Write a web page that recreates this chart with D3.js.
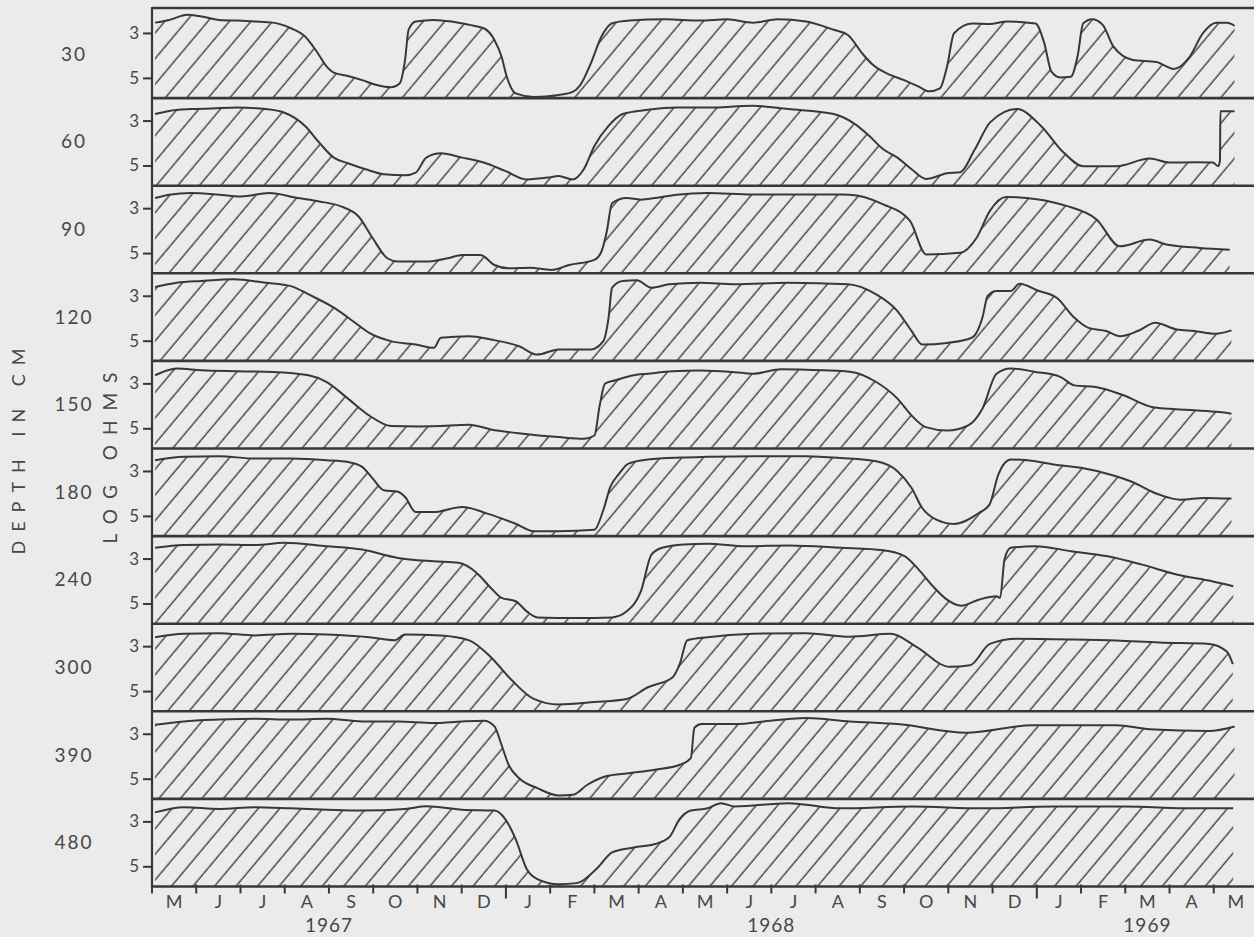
<!DOCTYPE html>
<html>
<head>
<meta charset="utf-8">
<script src="https://cdn.jsdelivr.net/npm/d3@7"></script>
<style>
  html, body { margin: 0; padding: 0; background: #ebebeb; }
  svg { display: block; }
  text { font-family: "Lato", "DejaVu Sans", sans-serif; fill: #474747; }
</style>
</head>
<body>
<svg id="chart" width="1254" height="937"></svg>
<script>
// ==========================
// DATA (month offset from 1 May 1967, log ohms)
// ==========================
const depths = ["30", "60", "90", "120", "150", "180", "240", "300", "390", "480"];
const monthLabels = ["M","J","J","A","S","O","N","D","J","F","M","A","M","J","J","A","S","O","N","D","J","F","M","A","M"];
const yearLabels = ["1967", "1968", "1969"];
const yearMonths = [4, 14, 22.5];
const yTicks = [3, 5];

const d30 = [[0.07,2.54],[0.39,2.42],[0.8,2.19],[1.12,2.27],[1.52,2.42],[1.93,2.45],[2.33,2.49],[2.73,2.54],[3.14,2.79],[3.46,3.16],[3.7,3.76],[3.95,4.5],[4.11,4.77],[4.43,4.92],[4.75,5.1],[5.08,5.32],[5.4,5.42],[5.6,5.24],[5.72,4.2],[5.8,2.86],[5.96,2.49],[6.37,2.42],[6.77,2.49],[7.17,2.64],[7.5,2.79],[7.74,3.31],[7.9,4.05],[8.02,4.95],[8.22,5.69],[8.63,5.85],[9.19,5.76],[9.51,5.62],[9.68,5.32],[9.92,4.35],[10.16,3.16],[10.4,2.57],[10.8,2.45],[11.6,2.39],[12.38,2.45],[13.0,2.39],[13.58,2.54],[14.14,2.39],[14.78,2.49],[15.41,2.86],[15.73,3.09],[16.05,3.9],[16.3,4.43],[16.69,4.87],[17.0,5.1],[17.33,5.39],[17.57,5.6],[17.81,5.47],[17.97,4.5],[18.13,3.01],[18.55,2.58],[18.93,2.6],[19.33,2.49],[19.97,2.58],[20.17,3.46],[20.33,4.72],[20.53,4.98],[20.77,4.95],[20.92,4.05],[21.05,2.57],[21.25,2.39],[21.49,2.64],[21.73,3.6],[22.17,4.2],[22.7,4.29],[23.1,4.6],[23.45,4.07],[23.76,3.0],[24.06,2.55],[24.3,2.55],[24.47,2.68]];
const d60 = [[0.07,2.71],[0.39,2.57],[0.88,2.49],[1.36,2.46],[1.93,2.42],[2.57,2.49],[2.98,2.64],[3.46,3.24],[3.78,3.98],[4.11,4.65],[4.43,4.9],[4.83,5.17],[5.24,5.39],[5.72,5.44],[5.96,5.32],[6.2,4.65],[6.53,4.46],[7.01,4.65],[7.5,4.87],[7.98,5.24],[8.47,5.62],[8.95,5.54],[9.19,5.47],[9.51,5.62],[9.76,5.17],[10.0,4.13],[10.32,3.24],[10.64,2.71],[11.21,2.52],[11.86,2.42],[12.56,2.42],[13.58,2.34],[14.38,2.49],[15.41,2.71],[15.89,3.16],[16.21,3.68],[16.53,4.28],[16.85,4.65],[17.17,5.17],[17.5,5.6],[17.97,5.35],[18.27,5.3],[18.6,4.28],[18.95,3.07],[19.55,2.49],[20.1,3.25],[20.6,4.41],[21.05,5.03],[21.8,5.03],[22.55,4.69],[23.0,4.87],[23.56,4.86],[23.98,4.87],[24.1,5.03],[24.14,4.8],[24.15,2.58],[24.47,2.58]];
const d90 = [[0.07,2.55],[0.39,2.4],[0.88,2.33],[1.52,2.4],[2.01,2.48],[2.65,2.33],[3.3,2.55],[3.78,2.7],[4.27,2.92],[4.67,3.37],[4.99,4.34],[5.32,5.23],[5.56,5.38],[6.2,5.38],[6.69,5.23],[7.01,5.08],[7.42,5.08],[7.74,5.53],[8.06,5.68],[8.55,5.65],[9.03,5.75],[9.43,5.53],[10.0,5.3],[10.16,4.93],[10.28,4.04],[10.4,2.77],[10.73,2.55],[11.05,2.62],[11.37,2.55],[11.86,2.4],[12.56,2.33],[13.58,2.39],[14.78,2.39],[15.77,2.4],[16.53,2.83],[17.13,3.56],[17.5,5.06],[18.27,4.99],[18.64,4.32],[18.94,3.12],[19.3,2.5],[20.0,2.6],[20.67,2.9],[21.35,3.5],[21.88,4.7],[22.55,4.4],[22.93,4.62],[23.68,4.77],[24.36,4.85]];
const d120 = [[0.07,2.61],[0.56,2.42],[1.12,2.34],[1.85,2.27],[2.57,2.42],[3.14,2.57],[3.54,2.94],[4.11,3.53],[4.59,4.2],[4.91,4.65],[5.4,5.02],[5.96,5.17],[6.37,5.32],[6.53,4.87],[7.17,4.8],[7.66,4.95],[8.3,5.25],[8.71,5.62],[9.19,5.39],[9.92,5.39],[10.2,5.02],[10.32,3.98],[10.4,2.64],[10.64,2.34],[10.96,2.31],[11.29,2.64],[11.69,2.49],[12.38,2.42],[13.18,2.49],[14.38,2.42],[15.73,2.49],[16.37,2.94],[16.85,3.68],[17.17,4.57],[17.41,5.17],[17.97,5.1],[18.53,4.87],[18.77,3.98],[18.89,3.01],[19.09,2.79],[19.41,2.79],[19.61,2.46],[20.05,2.79],[20.45,3.09],[20.85,3.98],[21.17,4.43],[21.57,4.57],[21.88,4.8],[22.28,4.57],[22.68,4.2],[23.16,4.5],[23.56,4.57],[24.04,4.69],[24.4,4.54]];
const d150 = [[0.07,2.64],[0.56,2.34],[1.12,2.42],[1.93,2.46],[2.73,2.49],[3.54,2.64],[3.95,2.94],[4.43,3.68],[4.91,4.43],[5.4,4.9],[6.04,4.92],[6.85,4.87],[7.17,4.84],[7.66,5.05],[8.38,5.24],[9.19,5.39],[9.76,5.47],[10.0,5.32],[10.12,3.98],[10.24,3.01],[10.48,2.86],[10.89,2.64],[11.21,2.57],[11.77,2.46],[12.38,2.43],[13.18,2.5],[13.58,2.57],[14.22,2.37],[15.18,2.42],[15.81,2.49],[16.37,2.94],[16.85,3.68],[17.17,4.43],[17.49,4.95],[17.97,5.1],[18.45,4.87],[18.77,4.13],[19.09,2.57],[19.41,2.34],[19.97,2.49],[20.53,2.71],[20.85,3.09],[21.33,3.16],[21.96,3.53],[22.6,4.05],[23.0,4.13],[23.56,4.2],[24.12,4.28],[24.4,4.35]];
const d180 = [[0.07,2.52],[0.72,2.37],[1.52,2.34],[2.33,2.45],[3.14,2.45],[3.95,2.52],[4.43,2.6],[4.75,2.82],[4.99,3.34],[5.24,3.86],[5.56,3.93],[5.72,4.16],[5.96,4.83],[6.37,4.83],[7.01,4.6],[7.58,4.9],[8.22,5.35],[8.63,5.68],[9.19,5.68],[10.0,5.62],[10.2,4.75],[10.36,3.71],[10.56,3.12],[10.77,2.67],[11.21,2.49],[11.97,2.4],[12.56,2.37],[13.58,2.34],[14.78,2.34],[15.57,2.42],[16.37,2.57],[16.85,3.01],[17.17,3.76],[17.41,4.65],[17.73,5.17],[18.13,5.36],[18.69,4.87],[18.93,4.5],[19.13,3.16],[19.41,2.49],[19.97,2.57],[20.37,2.71],[21.0,2.86],[21.65,3.16],[22.12,3.46],[22.76,4.05],[23.24,4.28],[23.8,4.2],[24.4,4.23]];
const d240 = [[0.07,2.52],[0.72,2.4],[1.52,2.37],[2.33,2.4],[2.98,2.3],[3.95,2.45],[4.75,2.6],[5.56,2.97],[6.37,3.12],[6.93,3.19],[7.34,3.64],[7.66,4.31],[7.9,4.75],[8.22,4.9],[8.47,5.35],[8.71,5.62],[9.6,5.65],[10.4,5.62],[10.73,5.35],[11.05,4.46],[11.29,2.82],[11.53,2.52],[12.02,2.37],[12.56,2.34],[13.42,2.45],[14.38,2.42],[15.57,2.52],[16.53,2.63],[17.01,2.89],[17.33,3.49],[17.65,4.23],[17.97,4.83],[18.29,5.1],[18.69,4.83],[19.09,4.68],[19.17,4.75],[19.27,3.04],[19.41,2.52],[19.97,2.45],[20.77,2.67],[21.57,2.89],[22.36,3.26],[23.16,3.71],[23.96,4.01],[24.44,4.23]];
const d300 = [[0.07,2.6],[0.72,2.45],[1.52,2.42],[2.33,2.52],[3.14,2.45],[3.95,2.48],[4.91,2.6],[5.48,2.74],[5.72,2.48],[6.53,2.52],[7.17,2.74],[7.66,3.49],[8.14,4.53],[8.63,5.35],[9.19,5.6],[10.0,5.49],[10.73,5.35],[11.21,4.83],[11.77,4.38],[11.93,3.79],[12.1,2.74],[12.56,2.6],[13.58,2.45],[14.78,2.42],[15.77,2.58],[16.7,2.45],[17.28,3.03],[18.03,3.92],[18.49,3.85],[18.94,2.9],[19.55,2.67],[20.77,2.7],[21.8,2.75],[22.76,2.84],[23.9,2.9],[24.3,3.25],[24.43,3.8]];
const d390 = [[0.07,2.6],[0.72,2.45],[1.52,2.37],[2.33,2.33],[3.14,2.37],[3.95,2.33],[4.75,2.45],[5.56,2.45],[6.37,2.52],[7.01,2.45],[7.5,2.42],[7.74,2.67],[7.9,3.49],[8.06,4.38],[8.3,4.98],[8.71,5.42],[9.19,5.75],[9.51,5.72],[9.84,5.27],[10.24,4.9],[10.81,4.75],[11.37,4.6],[11.93,4.38],[12.18,4.08],[12.26,2.74],[12.42,2.57],[13.18,2.57],[13.98,2.42],[14.78,2.3],[15.77,2.45],[16.9,2.58],[18.4,2.95],[19.9,2.62],[21.8,2.62],[22.55,2.8],[23.9,2.88],[24.47,2.68]];
const d480 = [[0.07,2.6],[0.72,2.37],[1.52,2.45],[2.33,2.37],[3.14,2.42],[3.95,2.48],[4.75,2.52],[5.72,2.45],[6.2,2.33],[7.01,2.48],[7.74,2.52],[7.98,2.89],[8.22,3.79],[8.47,5.12],[8.71,5.57],[9.19,5.8],[9.6,5.75],[10.08,5.05],[10.4,4.38],[10.89,4.16],[11.37,4.01],[11.69,3.71],[11.93,2.89],[12.18,2.52],[12.56,2.42],[12.86,2.19],[13.18,2.34],[14.38,2.19],[15.57,2.42],[17.17,2.34],[18.77,2.42],[20.37,2.34],[21.96,2.34],[23.56,2.42],[24.44,2.42]];

const series = [d30, d60, d90, d120, d150, d180, d240, d300, d390, d480];

// ==========================
// LAYOUT
// ==========================
const svg = d3.select("#chart");
const ink = "#383838";
const plotLeft = 152, plotRight = 1254;
const x = d3.scaleLinear().domain([0, 25]).range([152, 1258]);
const band = d3.scaleBand().domain(depths).range([10.5, 886.5]).padding(0);

// hatch pattern
const defs = svg.append("defs");
defs.append("pattern")
    .attr("id", "hatch")
    .attr("patternUnits", "userSpaceOnUse")
    .attr("width", 16.5)
    .attr("height", 16.5)
    .attr("patternTransform", "rotate(40)")
  .append("line")
    .attr("x1", 8).attr("y1", -2)
    .attr("x2", 8).attr("y2", 19)
    .attr("stroke", "#404040")
    .attr("stroke-width", 1.4);

// panels
depths.forEach((depth, i) => {
    const top = band(depth);
    const bottom = top + band.bandwidth();
    const y = d3.scaleLinear().domain([2.0, 5.9]).range([top, bottom]);
    const g = svg.append("g").attr("class", "panel");

    const area = d3.area()
        .x(d => x(d[0]))
        .y0(bottom)
        .y1(d => y(d[1]))
        .curve(d3.curveMonotoneX);
    const line = d3.line()
        .x(d => x(d[0]))
        .y(d => y(d[1]))
        .curve(d3.curveMonotoneX);

    g.append("path")
        .datum(series[i])
        .attr("d", area)
        .attr("fill", "url(#hatch)");
    g.append("path")
        .datum(series[i])
        .attr("d", line)
        .attr("fill", "none")
        .attr("stroke", ink)
        .attr("stroke-width", 2)
        .attr("stroke-linejoin", "round");

    // y ticks
    const yAxis = g.append("g")
        .attr("transform", `translate(${plotLeft},0)`)
        .call(d3.axisLeft(y).tickValues(yTicks).tickSize(9).tickPadding(4).tickFormat(d3.format("d")));
    yAxis.select(".domain").remove();
    yAxis.selectAll("line").attr("stroke", ink).attr("stroke-width", 2);
    yAxis.selectAll("text")
        .attr("font-size", 17)
        .attr("fill", "#474747")
        .style("font-family", "Lato, 'DejaVu Sans', sans-serif");

    // depth label
    g.append("text")
        .attr("x", 74)
        .attr("y", top + band.bandwidth() / 2 + 6.5)
        .attr("text-anchor", "middle")
        .attr("font-size", 19)
        .attr("letter-spacing", 2)
        .text(depth);

    // separator below panel
    g.append("line")
        .attr("x1", plotLeft).attr("x2", plotRight)
        .attr("y1", bottom).attr("y2", bottom)
        .attr("stroke", ink)
        .attr("stroke-width", 2.6);
});

// frame top + left axis
svg.append("line")
    .attr("x1", plotLeft).attr("x2", plotRight)
    .attr("y1", 8).attr("y2", 8)
    .attr("stroke", ink).attr("stroke-width", 2.6);
svg.append("line")
    .attr("x1", plotLeft).attr("x2", plotLeft)
    .attr("y1", 7).attr("y2", 887)
    .attr("stroke", ink).attr("stroke-width", 2.2);

// bottom month ticks
const axisY = band.range()[1];
svg.append("g").selectAll("line")
    .data(d3.range(0, 25))
    .join("line")
    .attr("x1", d => x(d)).attr("x2", d => x(d))
    .attr("y1", axisY - 2)
    .attr("y2", d => (d === 8 || d === 20) ? axisY + 12 : axisY + 7)
    .attr("stroke", ink)
    .attr("stroke-width", 2);

svg.append("g").selectAll("text")
    .data(monthLabels)
    .join("text")
    .attr("x", (d, i) => x(i + 0.5))
    .attr("y", axisY + 21)
    .attr("text-anchor", "middle")
    .attr("font-size", 18)
    .text(d => d);

svg.append("g").selectAll("text")
    .data(yearLabels)
    .join("text")
    .attr("x", (d, i) => x(yearMonths[i]))
    .attr("y", axisY + 45)
    .attr("text-anchor", "middle")
    .attr("font-size", 19)
    .attr("letter-spacing", 1)
    .text(d => d);

// axis titles
svg.append("text")
    .attr("transform", "translate(25,447) rotate(-90)")
    .attr("text-anchor", "middle")
    .attr("font-size", 18)
    .attr("letter-spacing", 9)
    .text("DEPTH IN CM");
svg.append("text")
    .attr("transform", "translate(117,453) rotate(-90)")
    .attr("text-anchor", "middle")
    .attr("font-size", 19)
    .attr("letter-spacing", 10)
    .text("LOG OHMS");
</script>
</body>
</html>
